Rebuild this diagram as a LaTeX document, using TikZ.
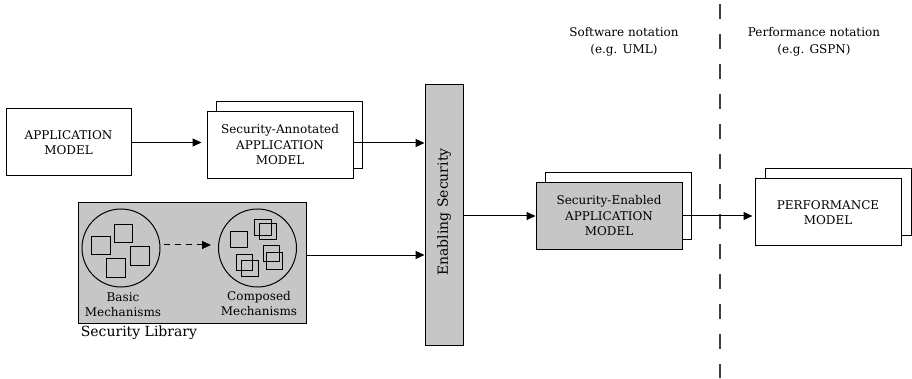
\documentclass[tikz,border=0pt]{standalone}
\usepackage{fontspec}
\setmainfont{DejaVu Serif}
\usetikzlibrary{arrows.meta}
\definecolor{secgray}{HTML}{C6C6C6}

\begin{document}
\begin{tikzpicture}[x=1pt, y=-1pt, line width=1pt, >={Triangle[length=9pt,width=8pt]},
        box/.style = {shape=rectangle, draw, fill=white, align=center,
            minimum width=146pt, minimum height=67pt, font=\fontsize{12}{15.5}\selectfont},
        mech/.style = {shape=rectangle, draw, line width=0.9pt, inner sep=0pt},
        pool/.style = {shape=circle, draw, minimum size=78pt, inner sep=0pt},
        caption/.style = {align=center, font=\fontsize{12}{15}\selectfont}]
            {
                \useasboundingbox (0, 0) rectangle (912, 378);

                \node[box, minimum width=125pt] (app) at (68.5, 142.5) {APPLICATION\\MODEL};
                \node[box] (annotback) at (289.5, 135) {};
                \node[box] (annot) at (280, 145) {Security-Annotated\\APPLICATION\\MODEL};

                \node[draw, fill=secgray, minimum width=228pt, minimum height=120pt] (lib) at (192, 263) {};
                \node[anchor=west, font=\fontsize{14}{16}\selectfont] (libname) at (77, 333) {Security Library};

                \node[pool] (basic) at (121, 248) {};
                \node[pool] (comp) at (257.5, 248) {};
                \node[caption] (basicname) at (123, 304.5) {Basic\\Mechanisms};
                \node[caption] (compname) at (259, 303.5) {Composed\\Mechanisms};

                \node[draw, fill=secgray, minimum width=38pt, minimum height=260pt] (enab) at (444, 215) {};
                \node[rotate=90, font=\fontsize{14}{16}\selectfont] (enabname) at (444, 212) {Enabling Security};

                \node[box] (enabledback) at (618.5, 206) {};
                \node[box, fill=secgray] (enabled) at (609, 216) {Security-Enabled\\APPLICATION\\MODEL};

                \node[box] (perfback) at (838, 202.5) {};
                \node[box] (perf) at (828, 212.5) {PERFORMANCE\\MODEL};

                \node[caption, font=\fontsize{12}{17}\selectfont] (sw) at (624, 41.5) {Software notation\\(e.g. UML)};
                \node[caption, font=\fontsize{12}{17}\selectfont] (pn) at (814, 41.5) {Performance notation\\(e.g. GSPN)};
            }

            % mechanisms inside the two pools
            \foreach \x/\y [count=\i] in {101/245.5, 123.5/233.5, 140/256, 116/268}
                \node[mech, minimum size=18.5pt] (b\i) at (\x, \y) {};
            \foreach \x/\y [count=\i] in {239/239.5, 263/227.5, 268/231.5, 271.5/253.5, 274.5/261, 244.5/262.5, 250/268.5}
                \node[mech, minimum size=16.8pt] (c\i) at (\x, \y) {};

            % separator between the two notations
            \coordinate (top) at (720, 4);
            \coordinate (bottom) at (720, 378);
            \draw[line width=2pt, black!75, dash pattern=on 15pt off 15pt] (top) -- (bottom);

            \draw ([yshift=3pt]basic.east) edge[->, dash pattern=on 6pt off 5pt, shorten <=3pt, shorten >=7pt] ([yshift=3pt]comp.west);

            \draw (app.east) edge[->, shorten >=5pt] (app.east -| annot.west);
            \draw ([yshift=2pt]annot.east) edge[->] ([yshift=2pt]annot.east -| enab.west);
            \draw ([yshift=8pt]lib.east) edge[->] ([yshift=8pt]lib.east -| enab.west);
            \draw (enabled.west -| enab.east) edge[->] (enabled.west);
            \draw (enabled.east) edge[->, shorten >=2pt] (enabled.east -| perf.west);

        \end{tikzpicture}
\end{document}
